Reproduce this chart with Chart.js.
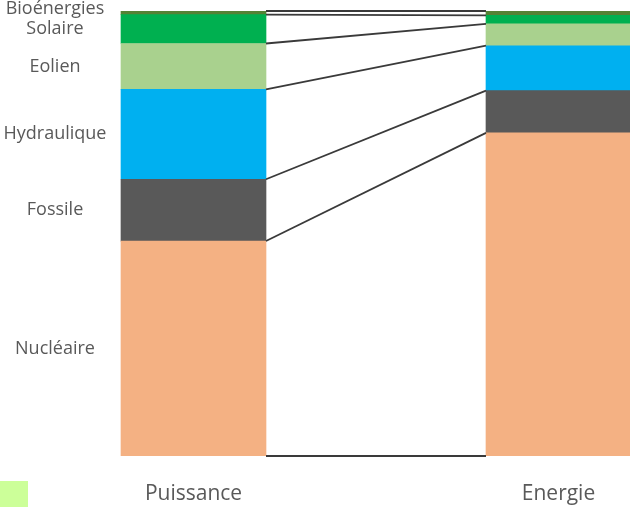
<!DOCTYPE html>
<html>
<head>
<meta charset="utf-8">
<script src="https://cdn.jsdelivr.net/npm/chart.js@4"></script>
<style>
  html, body { margin: 0; padding: 0; background: #fff; overflow: hidden; }
  #wrap { position: relative; width: 741px; height: 508px; }
  #carre { position: absolute; left: 0; top: 481px; width: 28px; height: 26px; background: #ccff99; }
</style>
</head>
<body>
<div id="wrap">
  <canvas id="grafico"></canvas>
  <div id="carre"></div>
</div>
<script>
// parts en % de la puissance installée et de l'énergie produite
const categories = ['Puissance', 'Energie'];
const sources = ['Nucléaire', 'Fossile', 'Hydraulique', 'Eolien', 'Solaire', 'Bioénergies'];
const nucleaire = [48.3, 72.6];
const fossile = [13.9, 9.5];
const hydraulique = [20.2, 10.1];
const eolien = [10.3, 4.9];
const solaire = [6.5, 1.9];
const bioenergies = [0.8, 1.0];

const valeurs = [nucleaire, fossile, hydraulique, eolien, solaire, bioenergies];
const couleurs = ['#f4b183', '#595959', '#00b0f0', '#a9d18e', '#00b050', '#548235'];

Chart.defaults.font.family = "'Open Sans', sans-serif";
Chart.defaults.color = '#595959';

// traits qui relient les limites des deux barres
const liaisons = {
  id: 'liaisons',
  afterDatasetsDraw(chart) {
    const ctx = chart.ctx;
    const y = chart.scales.y;
    const barA = chart.getDatasetMeta(0).data[0];
    const barB = chart.getDatasetMeta(0).data[1];
    const xA = barA.x + barA.width / 2;
    const xB = barB.x - barB.width / 2;
    let cumA = 0, cumB = 0;
    ctx.save();
    ctx.strokeStyle = '#3a3a3a';
    ctx.lineWidth = 1.8;
    for (let i = 0; i <= valeurs.length; i++) {
      ctx.beginPath();
      ctx.moveTo(xA, y.getPixelForValue(cumA));
      ctx.lineTo(xB, y.getPixelForValue(cumB));
      ctx.stroke();
      if (i < valeurs.length) {
        cumA += valeurs[i][0];
        cumB += valeurs[i][1];
      }
    }
    ctx.restore();
  }
};

// noms des sources à gauche de la première barre
const etiquettes = {
  id: 'etiquettes',
  afterDatasetsDraw(chart) {
    const ctx = chart.ctx;
    ctx.save();
    ctx.font = "18px 'Open Sans', sans-serif";
    ctx.fillStyle = '#595959';
    ctx.textAlign = 'center';
    ctx.textBaseline = 'middle';
    let precedent = Infinity;
    sources.forEach((nom, i) => {
      const el = chart.getDatasetMeta(i).data[0];
      let yPos = Math.min((el.y + el.base) / 2, precedent - 20);
      precedent = yPos;
      ctx.fillText(nom, 55, yPos);
    });
    ctx.restore();
  }
};

const data = {
  labels: categories,
  datasets: sources.map((nom, i) => ({
    label: nom,
    data: valeurs[i],
    backgroundColor: couleurs[i],
    borderWidth: 0,
    barThickness: 145
  }))
};

const config = {
  type: 'bar',
  data: data,
  options: {
    animation: false,
    responsive: false,
    layout: {
      padding: { left: 11, right: 0, top: 11, bottom: 0 }
    },
    scales: {
      x: {
        stacked: true,
        grid: { display: false, drawTicks: false },
        border: { display: false },
        afterFit: (axe) => { axe.height = 52; },
        ticks: {
          font: { size: 21 },
          color: '#595959',
          padding: 25,
          maxRotation: 0
        }
      },
      y: {
        stacked: true,
        display: false,
        min: 0,
        max: 100
      }
    },
    plugins: {
      legend: { display: false },
      tooltip: { enabled: false }
    }
  },
  plugins: [liaisons, etiquettes]
};

const canvas = document.getElementById('grafico');
canvas.width = 741;
canvas.height = 508;
const grafico = new Chart(canvas.getContext('2d'), config);
</script>
</body>
</html>
